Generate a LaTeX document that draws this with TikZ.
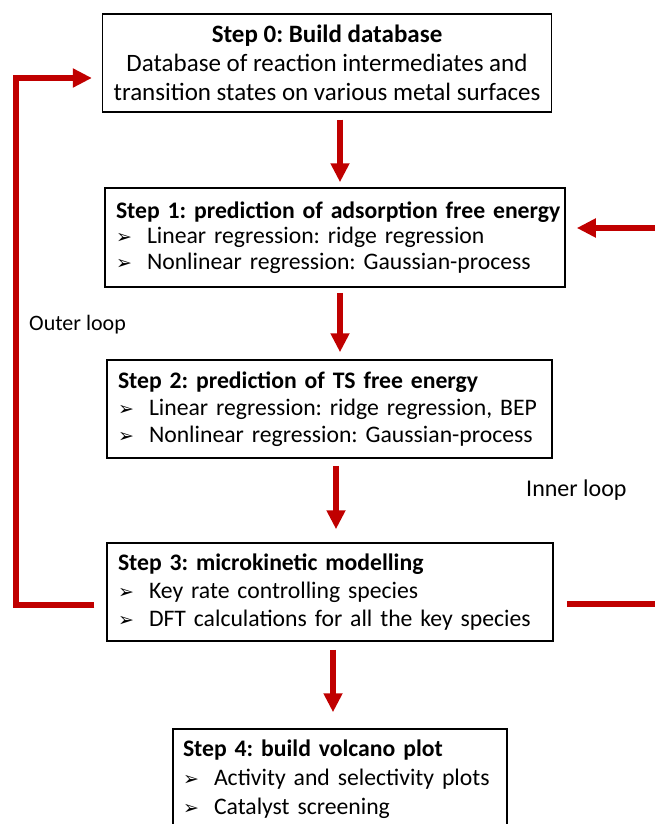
\documentclass[tikz,border=0pt]{standalone}
\usepackage{fontspec}
\setmainfont{Carlito}
\newfontfamily\symfont{DejaVu Sans}
\usetikzlibrary{arrows.meta,calc}
\frenchspacing
\definecolor{loopred}{RGB}{192,0,0}
\newcommand{\bul}{\makebox[31pt][l]{\symfont\fontsize{19}{19}\selectfont ➢}}
\newcommand{\oneline}[1]{\mbox{#1}}
\begin{document}
\begin{tikzpicture}[x=1pt,y=-1pt,
  box/.style={draw=black, line width=1.5pt, inner ysep=0pt, inner xsep=11pt},
  lbox/.style={box, align=left},
  flow/.style={draw=loopred, line width=5.5pt, -{Triangle[width=18pt,length=19pt]}},
  loopline/.style={draw=loopred, line width=5.5pt, line join=miter},
  lbl/.style={inner sep=0pt, anchor=west}]
\useasboundingbox (0,0) rectangle (654,824);
\node[box, minimum width=440pt, minimum height=98pt, align=center, font=\fontsize{25}{29}\selectfont] (b0) at (327,63)
  {\textbf{Step 0: Build database}\\Database of reaction intermediates and\\transition states on various metal surfaces};
\node[lbox, text width=438pt, minimum height=99pt, font=\fontsize{23.7}{25.5}\selectfont] (b1) at (335,237.5)
  {\oneline{\textbf{Step 1: prediction of adsorption free energy}}\\\oneline{\bul Linear regression: ridge regression}\\\oneline{\bul Nonlinear regression: Gaussian-process}};
\node[lbox, text width=423pt, minimum height=98pt, font=\fontsize{23.7}{27}\selectfont] (b2) at (329.5,409)
  {\oneline{\textbf{Step 2: prediction of TS free energy}}\\\oneline{\bul Linear regression: ridge regression, BEP}\\\oneline{\bul Nonlinear regression: Gaussian-process}};
\node[lbox, text width=424pt, minimum height=98pt, font=\fontsize{23.7}{28}\selectfont] (b3) at (330,592)
  {\oneline{\textbf{Step 3: microkinetic modelling}}\\\oneline{\bul Key rate controlling species}\\\oneline{\bul DFT calculations for all the key species}};
\node[lbox, text width=314pt, inner xsep=10pt, minimum height=100pt, font=\fontsize{23.7}{29}\selectfont] (b4) at (340,779)
  {\oneline{\textbf{Step 4: build volcano plot}}\\\oneline{\bul Activity and selectivity plots}\\\oneline{\bul Catalyst screening}};
% main flow
\draw[flow] ([xshift=13pt,yshift=-7pt]b0.south) -- ([xshift=5pt,yshift=5pt]b1.north);
\draw[flow] ([xshift=5pt,yshift=-5pt]b1.south) -- ([xshift=10.5pt,yshift=7pt]b2.north);
\draw[flow] ([xshift=6.5pt,yshift=-7pt]b2.south) -- ([xshift=6pt,yshift=13pt]b3.north);
\draw[flow] ([xshift=3pt,yshift=-8pt]b3.south) -- ([xshift=-7pt,yshift=16pt]b4.north);
% outer loop
\coordinate (ol) at (16,0);
\coordinate (os) at ([xshift=-12pt,yshift=-13pt]b3.west);
\coordinate (oe) at ([xshift=-10pt,yshift=-15pt]b0.west);
\draw[loopline, -{Triangle[width=18pt,length=19pt]}] (os) -- (os -| ol) -- (oe -| ol) -- (oe);
\node[lbl, font=\fontsize{22}{26}\selectfont] (outer) at (29,325) {Outer loop};
% inner loop
\coordinate (is) at ([xshift=13pt,yshift=-12pt]b3.east);
\coordinate (ie) at ([xshift=11pt,yshift=9.5pt]b1.east);
\coordinate (ir) at (662,0);
\draw[loopline] (is) -- (is -| ir);
\draw[flow] (ie -| ir) -- (ie);
\node[lbl, font=\fontsize{24}{28}\selectfont] (inner) at (526,490) {Inner loop};
\end{tikzpicture}
\end{document}
